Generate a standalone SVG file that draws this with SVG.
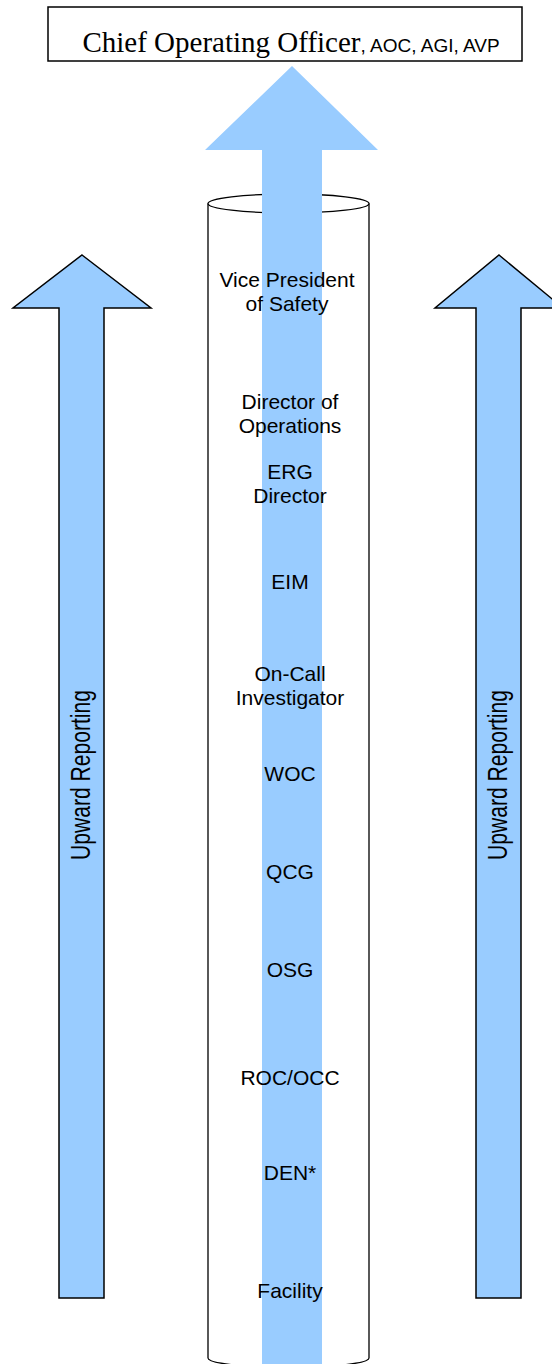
<svg xmlns="http://www.w3.org/2000/svg" width="552" height="1364" viewBox="0 0 552 1364">
<style>
.arrow{fill:#99CCFF;stroke:#000;stroke-width:1.5;stroke-linejoin:miter}
.lbl{font-family:"Liberation Sans",Arial,sans-serif;font-size:21px;fill:#000;text-anchor:middle}
.side{font-family:"Liberation Sans",Arial,sans-serif;font-size:28px;fill:#000;text-anchor:middle}
</style>
<rect width="552" height="1364" fill="#fff"/>
<g id="coo">
<rect x="48" y="7" width="474" height="54" fill="#fff" stroke="#000" stroke-width="1.5"/>
<text x="291" y="52" text-anchor="middle" fill="#000"><tspan font-family="'Liberation Serif','Times New Roman',serif" font-size="29">Chief Operating Officer</tspan><tspan font-family="'Liberation Sans',Arial,sans-serif" font-size="19">, AOC, AGI, AVP</tspan></text>
</g>
<g id="cylinder">
<path d="M208,203.5 L208,1358 A80.5,9.5 0 0 0 369,1358 L369,203.5" fill="#fff" stroke="#000" stroke-width="1.3"/>
<ellipse cx="288.5" cy="203.5" rx="80.5" ry="9.5" fill="#fff" stroke="#000" stroke-width="1.3"/>
</g>
<g id="connectors">
<path d="M292,66 L378,150 L322,150 L322,1370 L262,1370 L262,150 L205,150 Z" fill="#99CCFF"/>
<path class="arrow" d="M82,255 L151,308 L104,308 L104,1298 L59,1298 L59,308 L13,308 Z"/>
<path class="arrow" d="M499,255 L563,308 L521,308 L521,1298 L476,1298 L476,308 L435,308 Z"/>
</g>
<g id="left-label"><text class="side" transform="translate(90,775) rotate(-90)" textLength="170" lengthAdjust="spacingAndGlyphs">Upward Reporting</text></g>
<g id="right-label"><text class="side" transform="translate(507,775) rotate(-90)" textLength="170" lengthAdjust="spacingAndGlyphs">Upward Reporting</text></g>
<g id="vp"><text class="lbl" x="287" y="287">Vice President</text><text class="lbl" x="287" y="311">of Safety</text></g>
<g id="dir-ops"><text class="lbl" x="290" y="409">Director of</text><text class="lbl" x="290" y="433">Operations</text></g>
<g id="erg"><text class="lbl" x="290" y="479">ERG</text><text class="lbl" x="290" y="503">Director</text></g>
<g id="eim"><text class="lbl" x="290" y="589">EIM</text></g>
<g id="oncall"><text class="lbl" x="290" y="681">On-Call</text><text class="lbl" x="290" y="705">Investigator</text></g>
<g id="woc"><text class="lbl" x="290" y="781">WOC</text></g>
<g id="qcg"><text class="lbl" x="290" y="879">QCG</text></g>
<g id="osg"><text class="lbl" x="290" y="977">OSG</text></g>
<g id="roc"><text class="lbl" x="290" y="1085">ROC/OCC</text></g>
<g id="den"><text class="lbl" x="290" y="1180">DEN*</text></g>
<g id="facility"><text class="lbl" x="290" y="1298">Facility</text></g>
</svg>
